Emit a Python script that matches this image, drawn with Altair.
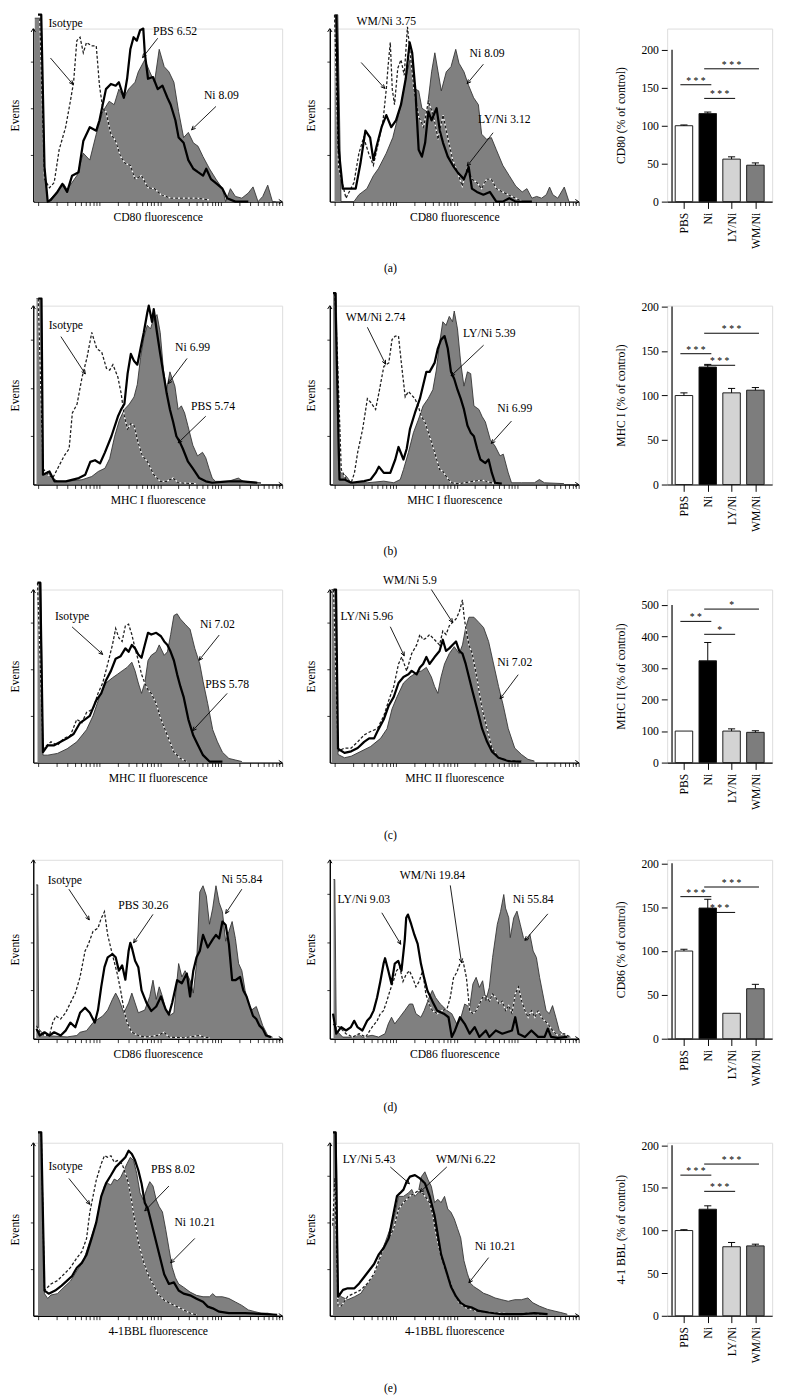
import math
import json
import altair as alt
import pandas as pd

FONT = "Liberation Serif"

# ---------------- histogram data (x: % of log-fluorescence axis, y: % of Events axis) ----------------
A1_FILL = [(0.6,106),(3.2,106),(4.5,20),(5.8,0),(8.4,4),(12.3,10),(13.6,7),(17.5,15),(20.1,28),(22.7,24),(25.3,39),(27.9,52),(30.5,58),(32.5,56),(34.4,65),(36.4,60),(38.3,65),(40.9,69),(42.2,75),(44.8,82),(46.8,75),(48.7,69),(50.6,88),(52.6,78),(54.5,75),(56.5,69),(58.4,52),(60.4,37),(62.3,40),(64.3,34),(66.2,32),(68.2,26),(70.8,19),(73.4,13),(76.0,7.5),(77.3,0),(79.2,7.5),(81.2,3),(83.8,2),(86.4,5),(88.3,8.5),(90.3,0),(92.2,3),(94.2,9.5),(96.1,0),(97.4,0)]
A1_SOLID = [(1.9,108),(3.2,108),(4.5,20),(5.8,0),(7.1,1),(9.7,5.6),(11.7,10.3),(13.6,5.6),(15.6,15),(18.2,17),(20.1,35),(22.7,43),(25.3,41),(26.6,47),(29.2,65),(31.2,68),(33.1,67),(34.4,69),(36.4,60),(37.7,71),(39,88),(40.3,95),(41.6,93),(42.9,99),(44.2,100),(44.8,86),(46.1,71),(48.1,72),(50,65),(51.9,67),(53.9,60),(55.2,56),(57.1,47),(58.4,37),(60.4,34),(62.3,24),(64.3,19),(66.2,17),(68.2,15),(69.5,19),(71.4,13),(74,10),(76,7.5),(77.9,2),(81.2,0),(86.4,0)]
A1_DASH = [(2.6,106),(4.5,13),(6.5,8),(8.4,11),(10.4,30),(13,43),(14.9,58),(16.2,69),(17.5,93),(18.8,95),(20.1,86),(21.4,92),(23.4,90),(25.3,90),(26.6,67),(27.9,54),(29.2,52),(31.2,39),(33.1,35),(35.1,26),(37,22),(39,21),(40.9,13),(43.5,15),(46.1,8),(48.7,7.5),(51.3,4),(55.2,2),(60.4,2),(65.6,2),(70.8,1)]

A2_FILL = [(1.9,108),(3.2,108),(4.5,0),(9.7,0),(11.7,4),(14.9,7.5),(17.5,15),(19.5,19),(22.7,28),(25.3,37),(28.6,56),(30.5,71),(32.5,84),(34.4,65),(35.7,64),(37,54),(39,52),(40.9,75),(42.2,86),(43.5,75),(44.8,64),(46.8,75),(48.7,78),(50.6,88),(51.9,80),(53.9,75),(55.8,67),(57.8,60),(59.7,56),(61,39),(63,36),(64.9,37),(66.9,30),(69.5,21),(72.1,15),(74.7,9),(77.3,5.6),(79.2,7.5),(81.2,2),(83.1,3),(85.1,2),(87,4),(88.3,8.4),(89.6,4),(91.6,2),(94.2,8.4),(96.1,0)]
A2_SOLID = [(2.6,108),(3.6,30),(5.2,7.5),(7.8,7.5),(10.4,7.5),(12.3,22),(14.3,41),(16.2,37),(17.5,24),(18.8,32),(20.8,43),(22.7,50),(24.7,43),(26.6,47),(28.6,56),(30.5,71),(32.1,92),(33.1,86),(34.4,64),(35.7,30),(37,26),(38.3,34),(39.6,52),(40.9,47),(42.9,54),(44.2,41),(45.5,34),(47.4,26),(49.4,21),(51.3,17),(53.9,13),(55.8,20),(57.1,7.5),(59.1,5.6),(61.7,4),(64.3,5.6),(66.9,0),(69.5,0),(72.1,2),(74.7,0),(81.2,0)]
A2_DASH = [(1.9,108),(3.5,20),(6.5,2),(9.7,11),(11.7,28),(13.6,37),(15.6,28),(17.5,21),(19.5,34),(21.4,47),(22.7,65),(23.4,78),(24.3,92),(25.1,65),(26,56),(27.3,77),(28.6,82),(29.9,73),(31.2,101),(32.1,88),(33.8,65),(35.7,49),(37.7,43),(39.6,58),(41.6,50),(43.5,36),(45.5,50),(47.4,37),(49.4,24),(51.3,17),(53.2,9),(55.2,19),(57.1,13),(59.1,11),(61,7.5),(63,13),(64.9,13),(66.9,7.5),(69.5,5.6),(72.1,3.7),(74.7,2),(77.3,0)]

B1_FILL = [(1.3,104),(3.3,104),(3.9,5.5),(5.9,7.3),(7.8,3.6),(9.8,1.8),(13.1,1.8),(19.6,2.7),(23.5,4.5),(26.1,7.3),(28.8,9.1),(30.7,14.5),(32.7,27),(34.6,36),(36.6,42),(38.6,45),(40.5,49),(41.8,56),(43.1,71),(44.4,82),(45.8,89),(47.1,87),(48.4,93),(49.7,95),(51,85),(52.3,64),(53.6,53),(54.9,63),(56.9,55),(58.2,42),(59.5,44),(60.8,40),(62.1,33),(64.1,22),(66,16),(68,18),(69.3,15),(70.6,9),(71.9,3.6),(73.2,1.8),(78.4,1.8),(82.4,3.6),(84.3,1.8),(91.5,1)]
B1_SOLID = [(2,104),(3.3,104),(3.9,5.5),(6.5,7.3),(8.5,1.8),(10.5,1.8),(13.1,1.8),(18.3,3.6),(20.9,5.5),(22.9,12.7),(24.8,13.6),(26.8,11.8),(28.8,18),(31.4,27),(34,38),(35.3,42),(36.6,45),(37.9,62),(39.2,73),(40.5,69),(41.8,67),(43.1,76),(44.4,85),(45.8,96),(46.4,100),(47.7,91),(48.4,98),(49.7,85),(51,73),(52.3,62),(53.6,51),(54.9,42),(56.2,35),(57.5,27),(58.8,24),(60.1,20),(62.1,13),(64.1,9),(66.7,3.6),(69.3,1.8),(71.9,1),(78.4,1.8),(84,1.8),(90,1)]
B1_DASH = [(2,104),(3.9,9),(5.9,5.5),(7.8,3.6),(9.8,9),(12.4,16),(14.4,20),(15.7,40),(17.6,45),(19.6,60),(21.6,71),(23.5,85),(25.5,76),(27.5,74),(29.4,65),(30.7,64),(32,67),(34,60),(35.3,51),(36.6,38),(37.9,31),(39.2,34),(40.5,33),(41.8,25),(43.8,16),(45.8,13),(48.4,5.5),(51,1.8),(53.6,1.8),(56.2,3.6),(58.2,1),(65.4,0.5)]

B2_FILL = [(1.3,107),(2.6,107),(3.5,8),(4.6,6.5),(6.6,4.7),(8.6,1),(15.1,1),(21.7,1.9),(25.7,1),(28.3,2.8),(29.6,8.4),(31.6,18),(33.6,29),(35.5,36),(37.5,44),(39.5,48),(41.4,53),(42.8,64),(44.1,79),(45.4,91),(46.7,89),(48,94),(49.3,91),(50,97),(51.3,87),(52.6,68),(53.9,55),(55.3,63),(56.6,62),(57.9,44),(59.9,42),(61.2,38),(62.5,35),(64.5,25),(66.4,21.5),(68.4,16),(69.7,17),(71.7,6.5),(73,1),(77,1),(82.2,1),(84.2,2.8),(86.2,1),(94.1,0.5)]
B2_SOLID = [(1.3,107),(2.2,107),(3.9,2.8),(5.9,2.8),(8.6,1),(13.8,1.9),(16.4,2.8),(18.4,6.5),(19.7,10),(21.7,6.5),(24.3,6.5),(26.3,14),(27.6,21),(29.6,14),(30.9,20),(32.2,31),(34.2,40),(36.2,48),(38.8,63),(40.1,63),(42.1,68),(43.4,76),(44.7,81),(46.1,83),(47.4,76),(48.7,63),(50,59),(51.3,53),(52.6,48),(53.9,42),(55.3,33),(56.6,29),(57.9,27),(59.2,20),(60.5,14),(62.5,12),(63.8,14),(65.1,6.5),(66.4,1),(69.1,0.5)]
B2_DASH = [(2,107),(3,74),(4.6,8.4),(6.6,2.8),(8.6,1),(9.9,6.5),(11.2,18),(13.2,31),(15.1,48),(16.4,46),(18.4,42),(19.7,51),(21.7,66),(23.7,68),(25,81),(26.3,83),(27.6,83),(28.9,66),(30.3,49),(31.6,52),(32.9,50),(34.2,48),(35.5,44),(36.8,38),(38.2,35),(40.1,27),(42.1,18),(44.1,8.4),(45.4,7.5),(46.7,4.7),(48.7,1),(52,0.5),(61.2,2.5),(66.4,0.5)]

C1_FILL = [(1.7,104),(3,104),(3.9,4.3),(5.8,4.3),(9.7,5.3),(13.6,8),(17.5,12),(21.4,19),(24,27),(26.6,38),(29.2,46),(31.8,49),(33.8,51),(35.7,53),(37.7,55),(39.6,58),(40.9,53),(42.2,46),(43.5,40),(44.8,46),(46.1,59),(47.4,62),(49.4,64),(50.6,68),(52.6,62),(53.9,64),(55.2,74),(56.5,85),(57.8,86),(59.1,83),(61,80),(63,77),(64.9,66),(66.9,57),(68.2,47),(70.1,34),(72.1,19),(74,12),(76,6),(78.6,2.4),(81.2,1.5),(83.8,0.6)]
C1_SOLID = [(1.7,104),(2.8,104),(3.9,6),(5.8,10),(8.4,10),(11,12),(13.6,14),(16.2,16.5),(18.8,23),(20.8,25),(22.7,27),(25.3,36),(27.3,40),(29.2,47.5),(31.2,53),(33.1,60),(35.1,61.5),(37,66),(38.3,64),(39.6,68),(40.9,66),(42.2,62.5),(43.5,60.6),(44.8,68),(46.1,75),(47.4,74),(49.4,75),(51.3,73),(52.6,70),(53.9,68),(55.2,64),(56.5,59),(57.8,51),(59.1,44),(60.4,38),(62.3,25),(64.3,15.6),(66.2,10),(68.2,4.3),(70.8,0.6),(76,0.5)]
C1_DASH = [(1.7,104),(3.9,8),(7.1,12),(9.7,10),(12.3,14),(14.9,15.6),(17.5,25),(19.5,23),(21.4,29),(24,31),(26,40),(27.9,46),(29.9,57),(31.8,68),(33.1,77.5),(34.4,72),(35.7,70),(37,79),(38.3,80),(39.6,74),(40.9,66),(42.2,59),(43.5,51),(44.8,46),(46.1,42),(47.4,40),(49.4,34),(51.3,25),(53.9,15.6),(56.5,6),(59.1,2.4),(61.7,0.6)]

C2_FILL = [(0.7,100),(2,100),(3.3,4.7),(5.9,2.8),(8.6,3.7),(12.5,6.5),(16.4,9.3),(20.4,14),(23,19.6),(25,31),(27,38),(29.6,46),(32.2,49.5),(34.9,52),(36.8,53),(38.8,55),(40.8,49.5),(42.1,44),(43.4,40),(44.7,49.5),(46.1,57),(48,63),(50,67),(52,63),(53.3,68),(54.6,78),(55.9,84),(57.9,84),(59.9,81),(61.8,78),(63.8,70),(65.8,57),(67.8,44),(69.7,33),(71.7,19.6),(74.3,8.4),(77,4.7),(79.6,1.9),(82.2,0.9)]
C2_SOLID = [(1.5,100),(2.5,100),(3.3,8),(5.9,5.6),(8.6,6.5),(11.2,8.4),(13.8,12),(15.8,14),(17.8,14),(19.1,18),(21.7,25),(23.7,33),(25.7,38),(27.6,46),(29.6,49.5),(31.6,51),(32.9,53),(34.9,51),(36.2,55),(37.5,57),(38.8,61),(40.1,57),(42.1,61),(44.1,64.5),(45.4,71),(46.7,64.5),(48,66),(49.3,68),(50.7,70),(52,64.5),(53.3,63),(54.6,57),(55.9,49.5),(57.2,42),(59.2,31),(61.2,19.6),(63.2,12),(65.1,6.5),(67.8,2.8),(71.7,0.9),(77,0.5)]
C2_DASH = [(1.5,100),(3.3,6.5),(5.9,8.4),(8.6,8.4),(11.2,12),(13.8,16),(16.4,18),(19.1,19.6),(21.7,27),(23.7,36),(25.7,44),(27.6,57),(28.9,61),(30.9,53),(32.9,63),(34.9,68),(36.2,74),(37.5,71),(38.8,72),(40.1,74),(42.1,71),(44.1,68),(45.4,76),(46.7,74),(48,79),(49.3,81),(50.7,83),(52,87),(53.3,94),(53.9,85),(54.6,78),(55.9,68),(57.2,63),(58.6,53),(59.9,42),(61.2,31),(63.2,19.6),(65.1,8.4),(67.8,2.8),(71.7,1.3),(77,0.5)]

D1_FILL = [(1.2,86),(1.8,86),(2.2,5.5),(4.5,1.8),(13.6,1),(17.5,1.8),(18.8,3.6),(21.4,4.5),(24,9),(26,11),(27.9,12.7),(29.9,16),(31.8,22),(33.1,25.5),(34.4,22),(36.4,14.5),(38.3,20),(39.6,25.5),(40.9,20),(42.2,14.5),(44.8,16),(46.8,23.6),(48.1,32.7),(49.4,22),(50.6,29),(51.9,23.6),(53.2,16),(54.5,12.7),(56.5,14.5),(58.4,42),(59.7,34.5),(61,38),(63,32.7),(64.3,25.5),(65.6,42),(66.9,82),(68.2,85.5),(69.5,80),(70.8,64),(72.1,73),(73.4,85.5),(74.7,76),(76,71),(77.3,54.5),(78.6,60),(79.9,65.5),(81.2,56),(82.5,42),(83.8,38),(85.1,27),(86.4,20),(87.7,16),(89.6,18),(90.9,12.7),(92.2,7.3),(94.2,1.8),(96.1,0.9)]
D1_SOLID = [(1.3,5.5),(2.6,1.8),(4.5,3.6),(6.5,1.8),(8.4,3.6),(11,1.8),(13,4.5),(14.9,9),(16.9,6.4),(18.8,14.5),(20.8,17.3),(22.7,14.5),(24.7,9),(26,16),(27.3,29),(28.6,40),(29.9,45.5),(31.8,47.3),(33.1,45.5),(34.4,38),(35.7,41),(37,33),(38.3,49),(39,53.6),(39.6,51),(40.9,43.6),(42.2,40),(43.5,27),(45.5,20),(47.4,15.5),(49.4,18),(51.3,23.6),(53.2,16.4),(54.5,13.6),(55.8,20),(57.8,32.7),(59.7,31),(61.7,36.4),(63,23.6),(64.3,38),(65.6,45.5),(66.9,49),(68.2,58),(70.1,51),(72.1,55.5),(73.4,58),(74.7,56),(76,65.5),(77.3,63.6),(78.6,52.7),(79.9,32.7),(81.2,32.7),(83.1,34.5),(84.4,27),(85.7,23.6),(87,18),(88.3,12.7),(89.6,11),(90.9,7.3),(92.2,5.5),(93.5,1.8),(95.5,0.9)]
D1_DASH = [(1.3,7.3),(2.6,3.6),(4.5,1.8),(6.5,1.8),(7.8,9),(9.1,12.7),(11,11),(13,14.5),(14.9,20),(16.9,25.5),(18.8,34.5),(20.8,49),(22.1,52.7),(24,60),(26,61.8),(27.3,67.3),(28.6,71),(29.9,58),(31.8,47),(33.8,36),(35.1,27),(36.4,16.4),(37.7,9),(39.6,3.6),(42.2,1.8),(44.8,0.9),(50,1.8),(52.6,3.6),(54.5,0.9),(60.4,0.5),(66.9,1.8),(68.5,0.9),(70.8,0.5)]

D2_FILL = [(1.5,89),(2,89),(2.6,4.6),(5.2,0.9),(9.2,0.9),(11.8,2.8),(13.1,0.9),(17,1.9),(19.6,0.9),(22.2,2.8),(23.5,8.3),(24.8,12),(26.1,8.3),(28.1,12),(30.1,15.7),(32,19.4),(33.3,19.4),(34.6,14),(36.6,12),(37.9,15.7),(39.9,23),(41.2,27),(42.5,23),(44.4,19.4),(45.8,17.6),(47.1,15.7),(49,14),(51,8.3),(52.3,10),(54.2,19.4),(56.2,17.6),(57.5,30.6),(58.8,34.3),(60.1,28.7),(61.4,32.4),(62.7,21.3),(64.1,28.7),(65.4,45.4),(67.3,64),(68.6,71),(69.9,80.6),(70.6,73),(71.9,67.6),(72.5,56.5),(73.9,67.6),(75.2,71.3),(76.5,64),(77.8,56.5),(79.1,54.6),(80.4,58.3),(81.7,49),(83,45.4),(84.3,34.3),(85.6,25),(86.9,15.7),(88.2,14),(89.5,18.5),(90.8,12),(92.2,4.6),(94.1,1.9),(96.7,0.9)]
D2_SOLID = [(1.3,14),(2.6,2.8),(4.6,6.5),(6.5,4.6),(8.5,6.5),(9.8,10),(11.1,6.5),(13.1,4.6),(15,10),(16.3,12),(17.6,15.7),(19,23),(20.3,32),(21.6,42),(22.2,45),(23.5,38),(24.8,30.6),(26.1,42),(27.5,43.5),(28.8,38),(30.1,55),(30.7,67.6),(31.4,69.4),(32.7,64),(34,58),(35.3,53),(36.6,42),(37.9,34),(39.2,27),(41.2,21),(43.1,15.7),(45.8,14),(47.7,12),(49,1),(50.3,4.6),(52.3,12),(54.2,8.3),(56.2,2.8),(58.2,6.5),(60.1,1),(62.7,4.6),(64.1,1),(66.7,4.6),(69.3,2.8),(73.2,4.6),(74.5,12),(75.8,2.8),(78.4,1),(81,4.6),(83.7,1),(86.3,1),(87.6,5.6),(88.9,1),(91.5,0.5),(95.4,1)]
D2_DASH = [(1.3,8),(3.9,6.5),(6.5,2.8),(9.2,0.9),(11.8,2.8),(14.4,0.9),(17,6.5),(19,10),(20.3,14),(21.6,15.7),(22.9,21),(24.2,27),(25.5,32),(26.8,38),(28.1,40),(29.4,32),(30.7,36),(32,38),(33.3,34),(34.6,29),(35.9,32),(37.3,38),(38.6,25),(39.9,19.4),(41.2,15.7),(43.1,14),(45.1,15.7),(47.1,16.7),(48.4,23),(49.7,34),(51,37),(52.3,42),(53.6,43),(54.9,34),(56.2,15.7),(57.5,14),(58.8,15.7),(60.1,19.4),(61.4,23),(62.7,24),(64.1,21),(65.4,25),(66.7,23),(68,19.4),(69.3,21),(70.6,15.7),(71.9,18.5),(73.2,14),(74.5,25),(75.8,29),(77.1,21),(78.4,15.7),(79.7,12),(81,15.7),(82.4,12),(83.7,15.7),(85,12),(86.3,10),(87.6,8.3),(89.5,4.6),(91.5,1.9),(94.1,2.8),(96.7,0.9)]

E1_FILL = [(1.9,106),(3.2,106),(4.5,12.8),(5.8,10),(7.1,12),(9.7,12.8),(12.3,16.5),(14.9,20),(17.5,26),(20.1,31.5),(22.7,43),(25.3,54),(27.3,69),(28.6,75),(29.9,76.5),(31.2,75.6),(32.5,79),(33.8,78),(35.1,80),(36.4,84),(37.7,88),(39,91.6),(40.3,89.7),(41.6,82),(42.9,71),(44.2,67),(45.5,73),(46.8,77.5),(48.1,75),(49.4,67),(50.6,63),(51.9,60),(53.2,50),(54.5,39),(55.8,28),(57.1,22),(58.4,18.4),(60.4,16.5),(63,13.7),(65.6,11.8),(68.2,11),(70.8,11),(72.1,12.8),(73.4,11),(76,11),(78.6,10),(81.2,8),(83.8,6),(86.4,3.4),(89,2.4),(91.6,1.5),(94.2,1.5),(96.8,0.6)]
E1_SOLID = [(1.9,106),(3.2,106),(4.5,14.6),(6.2,12.8),(8.8,14.6),(11.4,17.4),(13.6,20.3),(15.6,23),(17.5,27.8),(19.5,30.6),(21.4,35.3),(23.4,44.6),(25.3,54),(27.3,69),(29.2,76.5),(31.2,81.2),(33.1,85.9),(35.1,88.8),(37,91.6),(38.3,95.4),(39.6,93.5),(40.9,89.7),(42.2,84.1),(43.5,76.5),(44.8,65.3),(46.1,61.5),(47.4,54),(48.7,46.5),(50,39),(51.3,31.5),(52.6,24),(54.5,18.4),(56.5,19.3),(58.4,14.6),(60.4,12.8),(63,11.8),(65.6,9.9),(68.2,8.1),(70.1,5.3),(72.1,4.3),(74.7,2.4),(78.6,1.5),(85.1,1.5),(91.6,1.1),(98,0.6)]
E1_DASH = [(1.9,106),(3.2,106),(4.5,14.6),(7.1,18.4),(9.7,20.3),(12.3,24),(14.9,27.8),(17.5,33.4),(19.5,37.1),(21.4,44.6),(22.7,59.7),(24,69),(25.3,78.4),(27.3,87.8),(28.6,92.5),(29.9,91.6),(31.2,92.5),(32.5,88.8),(33.8,89.7),(35.7,87.8),(37,82.2),(38.3,76.5),(39.6,65.3),(40.9,54),(42.2,42.8),(44.2,31.5),(46.1,24),(48.1,18.4),(50,12.8),(52.6,9),(55.2,7.1),(57.8,5.3),(60.4,3.4),(63,1.5),(65.6,0.6)]

E2_FILL = [(1.3,106),(2.6,106),(3.3,13),(4.6,11),(7.2,9.3),(9.9,11),(12.5,13),(15.1,18.7),(17.8,24.3),(20.4,35.5),(22.4,43),(24.3,50.5),(26.3,59.8),(27.6,69),(29.6,69),(31.6,71),(32.9,73),(34.2,69),(35.5,71),(36.8,80.4),(38.2,83.2),(39.5,78.5),(40.8,74.8),(42.1,65.4),(43.4,67.3),(44.7,65.4),(46.1,69),(47.4,61.7),(48.7,59.8),(50,56),(51.3,50.5),(52.6,45),(53.9,31.8),(55.3,24.3),(56.6,18.7),(57.9,16.8),(59.9,15),(61.8,13),(63.8,12),(66.4,10.3),(69.1,9.3),(71.7,8.4),(74.3,9.3),(77,9.3),(79.6,10.3),(81.6,7.5),(84.2,5.6),(87.5,3.7),(90.1,2.8),(92.8,1.9),(95.4,0.9)]
E2_SOLID = [(1.3,106),(2.3,106),(3.3,11),(5.3,15),(7.2,15.9),(9.9,15.9),(11.8,18.7),(13.8,22.4),(15.8,26.2),(17.8,29.9),(19.7,35.5),(21.7,39.3),(23.7,44.9),(25.7,59.8),(27,69.2),(28.3,71),(29.6,72.9),(30.9,77.6),(32.2,80.4),(34.2,81.3),(36.2,79.4),(38.2,76.6),(40.1,69.2),(42.1,57.9),(43.4,46.7),(44.7,35.5),(46.7,26.2),(48.7,16.8),(50.7,11.2),(52.6,7.5),(54.6,5.6),(57.2,4.7),(59.9,2.8),(63.8,1.9),(69.1,0.9),(77,0.9),(82.2,1.5),(87.5,0.9)]
E2_DASH = [(1.2,52),(2,80),(3.3,5.6),(4.6,5.6),(7.2,11.2),(9.9,13.1),(12.5,15),(15.1,18.7),(17.8,24.3),(19.7,31.8),(21.7,39.3),(23.7,44.9),(25.7,50.5),(27.6,61.7),(29.6,65.4),(32.2,69.2),(34.2,71),(36.2,72.9),(38.2,69.2),(40.1,65.4),(41.4,57.9),(42.8,46.7),(44.1,37.4),(46.1,28),(48,20.6),(50,13.1),(52,7.5),(54.6,4.7),(58.6,2.8),(63.8,1.9),(69.1,1.5),(74.3,0.9),(79.6,1.5),(84.9,0.9)]

# annotations: (label, text x, text y, arrow from x, y, arrow to x, y)
A1_NOTES = [("Isotype",13,103,6.9,83,16,67.7),("PBS 6.52",57,98.7,50,94.4,43.9,83.2),("Ni 8.09",75.6,61.7,73.4,55,63.6,41.5)]
A2_NOTES = [("WM/Ni 3.75",22.7,104.3,12.6,80.4,22.1,65.4),("Ni 8.09",63.2,86,61.7,79.4,55.2,68.2),("LY/Ni 3.12",70.1,47.7,65.6,39.8,55.2,20.6)]
B1_NOTES = [("Isotype",13.1,89,11.1,82.7,20.9,61.8),("Ni 6.99",64,76.7,61.8,70.5,54.2,56.4),("PBS 5.74",72.2,43.6,69.3,38.2,58.2,23.3)]
B2_NOTES = [("WM/Ni 2.74",18.4,93.5,15.1,87.9,22.4,67.3),("LY/Ni 5.39",64.1,84.7,61.8,77.9,48.7,60.7),("Ni 6.99",74.3,43,73,35.5,64.9,23)]
C1_NOTES = [("Isotype",15.6,84.4,15.6,78.4,27.9,62.5),("Ni 7.02",74,80.3,74.7,73.7,66.6,59.1),("PBS 5.78",77.9,45.2,77.9,40,64,18.4)]
C2_NOTES = [("WM/Ni 5.9",32.2,105.6,40.8,100,49.3,81),("LY/Ni 5.96",14.9,84.5,24.3,78.5,29.9,61.7),("Ni 7.02",74.3,58,75.7,50.8,68.4,36.8)]
D1_NOTES = [("Isotype",12.7,88.6,14.3,83.6,22.5,66.4),("PBS 30.26",44.2,74.9,48.1,69.5,40.3,53.6),("Ni 55.84",83.8,89,83.8,83.6,77.3,70)]
D2_NOTES = [("LY/Ni 9.03",13.7,77.8,20.9,70.4,28.5,52.8),("WM/Ni 19.84",41.2,91.7,48.4,85.7,52.9,42.6),("Ni 55.84",81.7,77.8,87.6,69.8,78.4,55)]
E1_NOTES = [("Isotype",13,86.3,14.3,79.4,22.7,64.4),("PBS 8.02",56.2,85,54.5,75,44.8,60.6),("Ni 10.21",64.9,54,64.9,44.7,55.2,30.6)]
E2_NOTES = [("LY/Ni 5.43",15.8,90.7,24.3,86,32,76.3),("WM/Ni 6.22",54.6,90.7,47,86,36.2,71.4),("Ni 10.21",66.4,40.2,63.8,33.6,55.9,19.1)]

# ---------------- bar data ----------------
GROUPS = ["PBS", "Ni", "LY/Ni", "WM/Ni"]
BAR_COLORS = ["#ffffff", "#000000", "#d3d3d3", "#7d7d7d"]

CD80_MEAN = [100, 116, 56, 48]
CD80_ERR = [1, 2, 3, 3]
CD80_SIG = [(0, 1, 154, "* * *"), (1, 2, 136, "* * *"), (1, 3, 175, "* * *")]

MHC1_MEAN = [100, 132, 103, 106]
MHC1_ERR = [3, 3, 5, 3]
MHC1_SIG = [(0, 1, 147, "* * *"), (1, 2, 134, "* * *"), (1, 3, 170, "* * *")]

MHC2_MEAN = [100, 323, 100, 96]
MHC2_ERR = [0, 58, 7, 5]
MHC2_SIG = [(0, 1, 448, "* *"), (1, 2, 407, "*"), (1, 3, 487, "*")]

CD86_MEAN = [100, 149, 29, 57]
CD86_ERR = [2, 10, 0, 5]
CD86_SIG = [(0, 1, 162, "* * *"), (1, 2, 144, "* * *"), (1, 3, 173, "* * *")]

BBL_MEAN = [100, 125, 81, 82]
BBL_ERR = [1, 4, 5, 2]
BBL_SIG = [(0, 1, 165, "* * *"), (1, 2, 146, "* * *"), (1, 3, 178, "* * *")]

ROW_LABELS = ["(a)", "(b)", "(c)", "(d)", "(e)"]
FLUOR_TITLES = ["CD80 fluorescence", "MHC I fluorescence", "MHC II fluorescence", "CD86 fluorescence", "4-1BBL fluorescence"]
BAR_TITLES = ["CD80 (% of control)", "MHC I (% of control)", "MHC II (% of control)", "CD86 (% of control)", "4-1 BBL (% of control)"]
BAR_TICKS = [[0, 50, 100, 150, 200]] * 2 + [[0, 100, 200, 300, 400, 500]] + [[0, 50, 100, 150, 200]] * 2

# ---------------- layout ----------------
HIST_W = 256
ROW_H = [178, 184, 178, 184, 178]
BAR_W = 108
BAR_YMAX = [228, 201, 549, 204, 203]
LABEL_OFFSET = [15, 15, 21, 17, 21]

LOG_TICKS = [round(2 + 24.5 * math.log10(m * 10 ** d), 2) for d in range(4) for m in range(1, 10)] + [100.0]

AXIS_ARROW = "M-0.7,1.1L0,0L0.7,1.1"
NOTE_ARROW = "M-0.55,1.2L0,0L0.55,1.2"


def hist_panel(fill, solid, dashed, notes, xtitle, h):
    w = HIST_W
    xs = alt.Scale(domain=[0, 100], nice=False, zero=False)
    ys = alt.Scale(domain=[0, 100], nice=False, zero=False)
    xax = alt.Axis(title=xtitle, labels=False, values=LOG_TICKS, tickSize=4, tickColor="black",
                   tickWidth=0.8, domainColor="black", domainWidth=1.4, grid=False,
                   titleFont=FONT, titleFontSize=12, titleFontWeight="normal", titleColor="black",
                   titlePadding=6)
    yax = alt.Axis(title="Events", labels=False, values=[27, 54, 81], tickSize=3, tickColor="black",
                   tickWidth=0.8, domainColor="black", domainWidth=1.4, grid=False,
                   titleFont=FONT, titleFontSize=12, titleFontWeight="normal", titleColor="black",
                   titlePadding=9)
    X = alt.X("x:Q", scale=xs, axis=xax)
    Y = alt.Y("y:Q", scale=ys, axis=yax)

    dfill = pd.DataFrame(fill, columns=["x", "y"])
    dfill["base"] = 0
    dsol = pd.DataFrame(solid, columns=["x", "y"])
    ddash = pd.DataFrame(dashed, columns=["x", "y"])

    area = alt.Chart(dfill).mark_area(fill="#808080", fillOpacity=1, strokeWidth=0).encode(
        x=X, y=Y, y2="base:Q")
    outline = alt.Chart(dfill).mark_line(color="#333333", strokeWidth=0.9).encode(x=X, y=Y, order="x:Q")
    dash_under = alt.Chart(ddash).mark_line(color="white", strokeWidth=1.3).encode(x=X, y=Y, order="x:Q")
    dash = alt.Chart(ddash).mark_line(color="#1e1e1e", strokeWidth=1.3, strokeDash=[3, 2]).encode(x=X, y=Y, order="x:Q")
    sol = alt.Chart(dsol).mark_line(color="black", strokeWidth=2.3, strokeJoin="round").encode(x=X, y=Y, order="x:Q")

    rows = []
    for lab, tx, ty, x1, y1, x2, y2 in notes:
        dx = (x2 - x1) * w / 100.0
        dy = -(y2 - y1) * h / 100.0
        ang = math.degrees(math.atan2(dx, -dy)) % 360
        rows.append({"label": lab, "tx": tx, "ty": ty, "x": x1, "y": y1, "x2": x2, "y2": y2, "ang": ang})
    dn = pd.DataFrame(rows)
    arr_lines = alt.Chart(dn).mark_rule(color="black", strokeWidth=0.9).encode(
        x=X, y=Y, x2="x2:Q", y2="y2:Q")
    arr_heads = alt.Chart(dn).mark_point(shape=NOTE_ARROW, filled=False, color="black", strokeWidth=0.9,
                                         size=45, opacity=1).encode(
        x=alt.X("x2:Q", scale=xs, axis=xax), y=alt.Y("y2:Q", scale=ys, axis=yax),
        angle=alt.Angle("ang:Q", scale=None))
    texts = alt.Chart(dn).mark_text(font=FONT, fontSize=12, color="black", align="center",
                                    baseline="middle").encode(
        x=alt.X("tx:Q", scale=xs, axis=xax), y=alt.Y("ty:Q", scale=ys, axis=yax), text="label:N")

    ends = pd.DataFrame({"x": [0, 100], "y": [100, 0], "ang": [0, 90]})
    axis_heads = alt.Chart(ends).mark_point(shape=AXIS_ARROW, filled=False, color="black", strokeWidth=1,
                                            size=40, opacity=1).encode(
        x=X, y=Y, angle=alt.Angle("ang:Q", scale=None))

    return alt.layer(area, outline, dash_under, dash, sol, arr_lines, arr_heads, texts, axis_heads).properties(
        width=w, height=h)


def bar_panel(means, errs, sig, ytitle, ymax, yticks, h):
    df = pd.DataFrame({"i": list(range(len(GROUPS))), "g": GROUPS, "m": means, "e": errs})
    df["top"] = df["m"] + df["e"]
    df["cl"] = df["i"] - 0.15
    df["cr"] = df["i"] + 0.15
    label_expr = json.dumps(GROUPS) + "[datum.value]"
    xs = alt.Scale(domain=[-0.5, len(GROUPS) - 0.5], nice=False, zero=False)
    ys = alt.Scale(domain=[0, ymax], nice=False, zero=True)
    xax = alt.Axis(title=None, values=list(range(len(GROUPS))), labelExpr=label_expr, labelAngle=270,
                   labelFont=FONT, labelFontSize=12, labelColor="black", tickSize=7, tickColor="black",
                   tickWidth=1, domainColor="black", domainWidth=1.2, labelPadding=4, grid=False)
    yax = alt.Axis(title=ytitle, values=yticks, domain=False, labelFont=FONT, labelFontSize=12,
                   labelColor="black", tickSize=6, tickColor="black", tickWidth=1, grid=False,
                   titleFont=FONT, titleFontSize=12, titleFontWeight="normal", titleColor="black",
                   titlePadding=14, labelPadding=3)
    X = alt.X("i:Q", scale=xs, axis=xax)
    Y = alt.Y("m:Q", scale=ys, axis=yax)

    bars = alt.Chart(df).mark_bar(size=18, stroke="#1a1a1a", strokeWidth=1).encode(
        x=X, y=Y, color=alt.Color("g:N", scale=alt.Scale(domain=GROUPS, range=BAR_COLORS), legend=None))
    err = alt.Chart(df[df["e"] > 0]).mark_rule(color="black", strokeWidth=1).encode(x=X, y=Y, y2="top:Q")
    caps = alt.Chart(df[df["e"] > 0]).mark_rule(color="black", strokeWidth=1).encode(
        x=alt.X("cl:Q", scale=xs, axis=xax), x2="cr:Q", y=alt.Y("top:Q", scale=ys, axis=yax))

    ds = pd.DataFrame([{"x1": a - 0.15, "x2": b + 0.15, "lev": lev, "mid": (a + b) / 2.0, "lab": lab}
                       for a, b, lev, lab in sig])
    sig_lines = alt.Chart(ds).mark_rule(color="black", strokeWidth=1).encode(
        x=alt.X("x1:Q", scale=xs, axis=xax), x2="x2:Q", y=alt.Y("lev:Q", scale=ys, axis=yax))
    sig_text = alt.Chart(ds).mark_text(font=FONT, fontSize=10, color="black", baseline="alphabetic",
                                       dy=-1).encode(
        x=alt.X("mid:Q", scale=xs, axis=xax), y=alt.Y("lev:Q", scale=ys, axis=yax), text="lab:N")

    dax = pd.DataFrame({"x": [-0.5], "y0": [0], "y1": [yticks[-1]]})
    yline = alt.Chart(dax).mark_rule(color="black", strokeWidth=1.2).encode(
        x=alt.X("x:Q", scale=xs, axis=xax), y=alt.Y("y0:Q", scale=ys, axis=yax), y2="y1:Q")

    return alt.layer(bars, err, caps, sig_lines, sig_text, yline).properties(width=BAR_W, height=h)


HISTS = [
    (A1_FILL, A1_SOLID, A1_DASH, A1_NOTES, A2_FILL, A2_SOLID, A2_DASH, A2_NOTES),
    (B1_FILL, B1_SOLID, B1_DASH, B1_NOTES, B2_FILL, B2_SOLID, B2_DASH, B2_NOTES),
    (C1_FILL, C1_SOLID, C1_DASH, C1_NOTES, C2_FILL, C2_SOLID, C2_DASH, C2_NOTES),
    (D1_FILL, D1_SOLID, D1_DASH, D1_NOTES, D2_FILL, D2_SOLID, D2_DASH, D2_NOTES),
    (E1_FILL, E1_SOLID, E1_DASH, E1_NOTES, E2_FILL, E2_SOLID, E2_DASH, E2_NOTES),
]
BARS = [
    (CD80_MEAN, CD80_ERR, CD80_SIG),
    (MHC1_MEAN, MHC1_ERR, MHC1_SIG),
    (MHC2_MEAN, MHC2_ERR, MHC2_SIG),
    (CD86_MEAN, CD86_ERR, CD86_SIG),
    (BBL_MEAN, BBL_ERR, BBL_SIG),
]

rows = []
for r in range(5):
    f1, s1, d1, n1, f2, s2, d2, n2 = HISTS[r]
    h = ROW_H[r]
    p1 = hist_panel(f1, s1, d1, n1, FLUOR_TITLES[r], h)
    p2 = hist_panel(f2, s2, d2, n2, FLUOR_TITLES[r], h)
    mean, err, sig = BARS[r]
    p3 = bar_panel(mean, err, sig, BAR_TITLES[r], BAR_YMAX[r], BAR_TICKS[r], h)
    pair = alt.hconcat(p1, p2, spacing=20)
    row = alt.hconcat(pair, p3, spacing=33,
                      title=alt.TitleParams(text=ROW_LABELS[r], orient="bottom", anchor="middle", font=FONT,
                                            fontSize=12, fontWeight="normal", color="black",
                                            offset=LABEL_OFFSET[r]))
    rows.append(row)

chart = alt.vconcat(*rows, spacing=16).properties(
    padding={"left": 0, "top": -17, "right": 5, "bottom": 5}
).configure_view(stroke=None).configure(background="white")

chart.save("out.html", embed_options={"renderer": "svg", "actions": False})
